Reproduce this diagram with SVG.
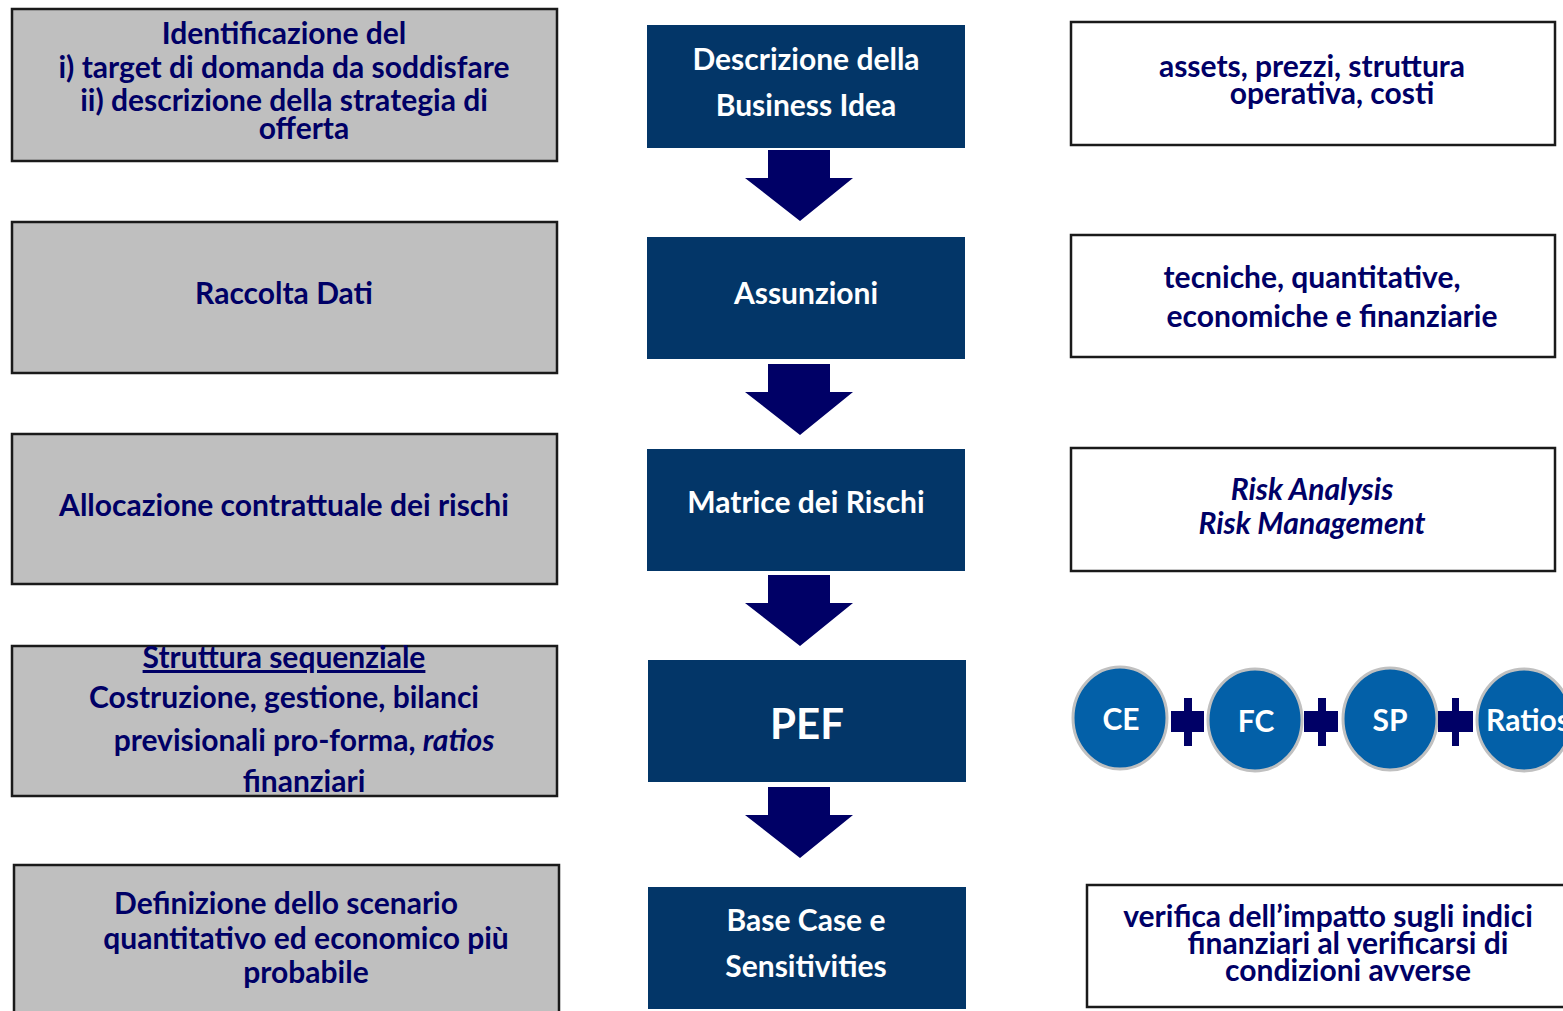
<svg xmlns="http://www.w3.org/2000/svg" width="1563" height="1011" viewBox="0 0 1563 1011">
<style>
.gb{fill:#BFBFBF;stroke:#1a1a1a;stroke-width:2.5}
.wb{fill:#FFFFFF;stroke:#1a1a1a;stroke-width:2.5}
.cb{fill:#033668}
.t{font-family:Lato,"Liberation Sans",sans-serif;font-weight:bold;text-anchor:middle}
.n{fill:#000066;font-size:30px}
.w{fill:#FFFFFF;font-size:30px}
.big{font-size:42px}
.arr{fill:#000066}
.circ{fill:#0360A8;stroke:#C0C0C0;stroke-width:3}
.plus{fill:#000066}
</style>
<rect width="1563" height="1011" fill="#FFFFFF"/>

<g id="left1"><rect class="gb" x="12" y="9" width="545" height="152"/>
<text class="t n"><tspan x="284" y="44">Identificazione del</tspan><tspan x="284" y="78">i) target di domanda da soddisfare</tspan><tspan x="284" y="111">ii) descrizione della strategia di</tspan><tspan x="304" y="139">offerta</tspan></text></g>
<g id="left2"><rect class="gb" x="12" y="222" width="545" height="151"/>
<text class="t n" x="284" y="304">Raccolta Dati</text></g>
<g id="left3"><rect class="gb" x="12" y="434" width="545" height="150"/>
<text class="t n" x="284" y="516">Allocazione contrattuale dei rischi</text></g>
<g id="left4"><rect class="gb" x="12" y="646" width="545" height="150"/>
<text class="t n"><tspan x="284" y="668" text-decoration="underline">Struttura sequenziale</tspan><tspan x="284" y="708">Costruzione, gestione, bilanci</tspan><tspan x="304" y="751">previsionali pro-forma, <tspan font-style="italic">ratios</tspan></tspan><tspan x="304" y="792">finanziari</tspan></text></g>
<g id="left5"><rect class="gb" x="14" y="865" width="545" height="160"/>
<text class="t n"><tspan x="286" y="914">Definizione dello scenario</tspan><tspan x="306" y="949">quantitativo ed economico più</tspan><tspan x="306" y="983">probabile</tspan></text></g>

<g id="c1"><rect class="cb" x="647" y="25" width="318" height="123"/>
<text class="t w"><tspan x="806" y="70">Descrizione della</tspan><tspan x="806" y="116">Business Idea</tspan></text></g>
<g id="c2"><rect class="cb" x="647" y="237" width="318" height="122"/>
<text class="t w" x="806" y="304">Assunzioni</text></g>
<g id="c3"><rect class="cb" x="647" y="449" width="318" height="122"/>
<text class="t w" x="806" y="513">Matrice dei Rischi</text></g>
<g id="c4"><rect class="cb" x="648" y="660" width="318" height="122"/>
<text class="t w big" x="807" y="739">PEF</text></g>
<g id="c5"><rect class="cb" x="648" y="887" width="318" height="122"/>
<text class="t w"><tspan x="806" y="931">Base Case e</tspan><tspan x="806" y="977">Sensitivities</tspan></text></g>

<g id="r1"><rect class="wb" x="1071" y="22" width="484" height="123"/>
<text class="t n"><tspan x="1312" y="77">assets, prezzi, struttura</tspan><tspan x="1332" y="104">operativa, costi</tspan></text></g>
<g id="r2"><rect class="wb" x="1071" y="235" width="484" height="122"/>
<text class="t n"><tspan x="1312" y="288">tecniche, quantitative,</tspan><tspan x="1332" y="327">economiche e finanziarie</tspan></text></g>
<g id="r3"><rect class="wb" x="1071" y="448" width="484" height="123"/>
<text class="t n" font-style="italic"><tspan x="1312" y="500">Risk Analysis</tspan><tspan x="1312" y="534">Risk Management</tspan></text></g>
<g id="r5"><rect class="wb" x="1087" y="885" width="490" height="122"/>
<text class="t n"><tspan x="1328" y="927">verifica dell’impatto sugli indici</tspan><tspan x="1348" y="954">finanziari al verificarsi di</tspan><tspan x="1348" y="981">condizioni avverse</tspan></text></g>

<g id="ce"><ellipse class="circ" cx="1120" cy="718" rx="47" ry="51"/><text class="t w" x="1121" y="730">CE</text></g>
<g id="fc"><ellipse class="circ" cx="1255" cy="720" rx="47" ry="51"/><text class="t w" x="1256" y="732">FC</text></g>
<g id="sp"><ellipse class="circ" cx="1390" cy="719" rx="47" ry="51"/><text class="t w" x="1390" y="731">SP</text></g>
<g id="ratios"><ellipse class="circ" cx="1524" cy="720" rx="47" ry="51"/><text class="t w" x="1528" y="731">Ratios</text></g>

<g id="connectors">
<polygon class="arr" points="768,150 830,150 830,178 853,178 800,221 745,178 768,178"/>
<polygon class="arr" points="768,364 830,364 830,392 853,392 800,435 745,392 768,392"/>
<polygon class="arr" points="768,575 830,575 830,603 853,603 800,646 745,603 768,603"/>
<polygon class="arr" points="768,787 830,787 830,815 853,815 800,858 745,815 768,815"/>
<path class="plus" d="M1184,698h8v13h12v21h-12v14h-8v-14h-13v-21h13z"/>
<path class="plus" d="M1318,698h8v13h12v21h-12v14h-8v-14h-14v-21h14z"/>
<path class="plus" d="M1452,698h7v13h14v21h-14v14h-7v-14h-14v-21h14z"/>
</g>
</svg>
